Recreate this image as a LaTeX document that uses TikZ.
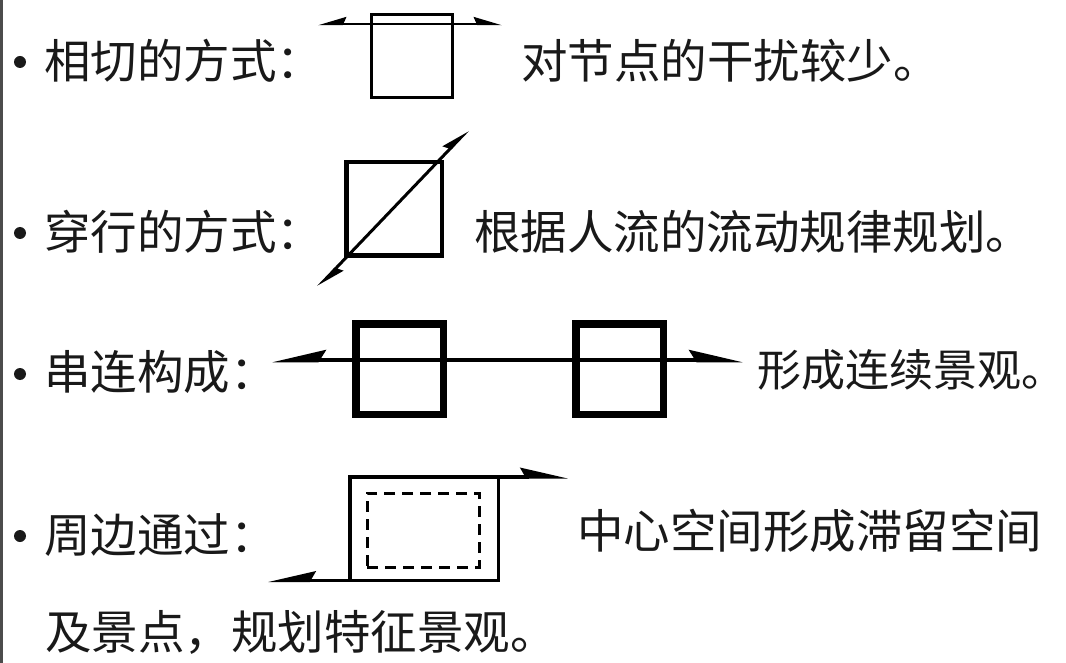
\documentclass[tikz,border=0pt]{standalone}
\usepackage{fontspec}
\newfontfamily\cjk{Noto Sans CJK SC}
\usetikzlibrary{arrows.meta}
\begin{document}
\begin{tikzpicture}[x=1pt,y=-1pt,
  txt/.style={font=\cjk\fontsize{46.5}{50}\selectfont, anchor=west, inner sep=0pt, text=black!90},
  bul/.style={circle, fill=black!90, inner sep=0pt, minimum size=12pt},
  boxa/.style={draw, line width=2.8pt, inner sep=0pt, outer sep=0pt},
  boxb/.style={draw, line width=4.5pt, inner sep=0pt, outer sep=0pt},
  boxc/.style={draw, line width=7.5pt, inner sep=0pt, outer sep=0pt},
  boxd/.style={draw, line width=3.5pt, inner sep=0pt, outer sep=0pt},
  dashbox/.style={draw, line width=3pt, dash pattern=on 11pt off 7pt, inner sep=0pt, outer sep=0pt},
]
\useasboundingbox (0,0) rectangle (1066,663);
\fill[white] (0,0) rectangle (1066,663);
\draw[line width=3pt, black!70] (1.5,0) -- (1.5,663);

% row 1
\node[bul] (u1) at (20,62) {};
\node[txt] (l1) at (44,61) {相切的方式：};
\node[boxa, minimum width=81pt, minimum height=83pt] (b1) at (412,56) {};
\coordinate (a1s) at (318,24);
\coordinate (a1e) at (502,24);
\draw[line width=2.5pt, {Stealth[harpoon, swap, length=24pt, width=14pt, inset=3pt]}-{Stealth[harpoon, length=24pt, width=14pt, inset=3pt]}] (a1s) -- (a1e);
\node[txt] (r1) at (521,61) {对节点的干扰较少。};

% row 2
\node[bul] (u2) at (20,233) {};
\node[txt] (l2) at (44,232) {穿行的方式：};
\node[boxb, minimum width=95.5pt, minimum height=93.5pt] (b2) at (394,209) {};
\coordinate (a2s) at (318,287);
\coordinate (a2e) at (468,130);
\draw[line width=3pt, {Stealth[harpoon, length=24pt, width=14pt, inset=3pt]}-{Stealth[harpoon, length=24pt, width=14pt, inset=3pt]}] (a2s) -- (a2e);
\node[txt] (r2) at (474,232) {根据人流的流动规律规划。};

% row 3
\node[bul] (u3) at (20,374) {};
\node[txt] (l3) at (44,372) {串连构成：};
\node[boxc, minimum width=87.5pt, minimum height=90.5pt] (b3) at (399.5,369) {};
\node[boxc, minimum width=87.5pt, minimum height=90.5pt] (b3b) at (619.5,369) {};
\coordinate (a3s) at (272,360);
\coordinate (a3e) at (743,360);
\draw[line width=4.5pt, {Stealth[harpoon, swap, length=44pt, width=20pt, inset=6pt]}-{Stealth[harpoon, length=44pt, width=20pt, inset=6pt]}] (a3s) -- (a3e);
\node[txt, font=\cjk\fontsize{44}{50}\selectfont] (r3) at (757,370) {形成连续景观。};

% row 4
\node[bul] (u4) at (20,536) {};
\node[txt] (l4) at (44,535) {周边通过：};
\node[boxd, minimum width=148.5pt, minimum height=103.5pt] (b4) at (424,528.5) {};
\node[dashbox, minimum width=112pt, minimum height=74pt] (d4) at (423,530) {};
\coordinate (a4e) at (568,476.5);
\coordinate (a4s) at (268,580.5);
\draw[line width=3.5pt, -{Stealth[harpoon, length=40pt, width=18pt, inset=5pt]}] (b4.north east) -- (a4e |- b4.north east);
\draw[line width=3.5pt, -{Stealth[harpoon, swap, length=40pt, width=18pt, inset=5pt]}] (b4.south west) -- (a4s |- b4.south west);
\node[txt] (r4) at (577,531) {中心空间形成滞留空间};

% last line
\node[txt] (l5) at (45,632) {及景点，规划特征景观。};
\end{tikzpicture}
\end{document}
